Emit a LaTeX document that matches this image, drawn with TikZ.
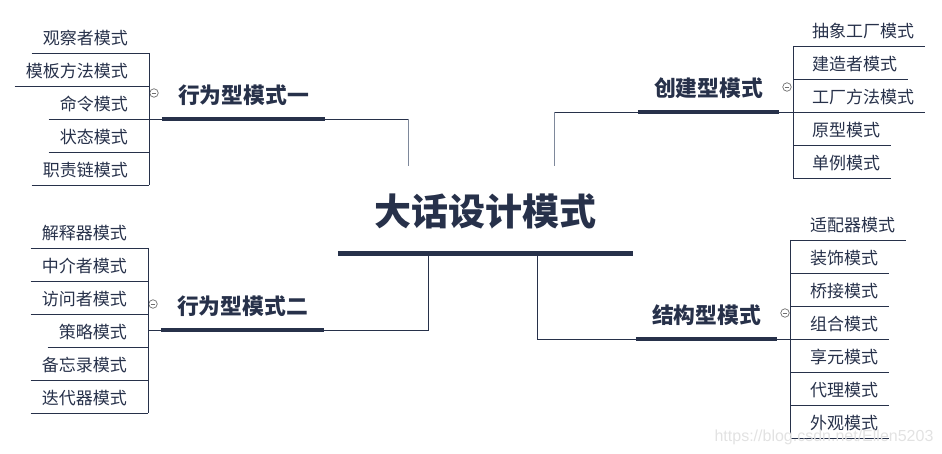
\documentclass[tikz,border=0pt]{standalone}
\usepackage{fontspec}
\usepackage{tikz}
\usetikzlibrary{calc, backgrounds}
\newfontfamily\mmcjk{Noto Sans CJK SC}
\newfontfamily\mmlatin{Liberation Sans}
\definecolor{mmnavy}{HTML}{27314A}
\definecolor{mmsoftline}{HTML}{7E889B}
\definecolor{mmfold}{HTML}{6E6E6E}
\definecolor{mmmark}{HTML}{E2E2E2}
\newcommand{\MMRootFont}{\mmcjk\bfseries\fontsize{37pt}{40pt}\selectfont}
\newcommand{\MMBranchFont}{\mmcjk\bfseries\fontsize{21.8pt}{24pt}\selectfont}
\newcommand{\MMLeafFont}{\mmcjk\fontsize{17pt}{20pt}\selectfont}
\tikzset{
  mm root/.style={
    font=\MMRootFont,
    text=mmnavy,
    anchor=south,
    inner xsep=36.5pt,
    inner ysep=0pt,
    text height=30pt,
    text depth=28pt
  },
  mm branch/.style={
    font=\MMBranchFont,
    text=mmnavy,
    anchor=south,
    inner xsep=16pt,
    inner ysep=0pt,
    text height=18pt,
    text depth=15.7pt
  },
  mm leaf/.style={
    font=\MMLeafFont,
    text=mmnavy,
    inner xsep=11pt,
    inner ysep=0pt,
    text height=14pt,
    text depth=8.5pt
  },
  mm leaf left/.style={mm leaf, anchor=south east},
  mm leaf right/.style={mm leaf, anchor=south west},
  mm thin/.style={
    draw=mmnavy,
    line width=0.9pt
  },
  mm link/.style={
    draw=mmnavy,
    line width=0.9pt
  },
  mm soft link/.style={
    draw=mmsoftline,
    line width=1pt
  },
  mm bar/.style={
    draw=mmnavy,
    line width=3.6pt
  },
  mm root bar/.style={
    draw=mmnavy,
    line width=5pt
  },
  mm fold/.style={
    circle,
    draw=mmfold,
    line width=0.7pt,
    minimum size=8.5pt,
    inner sep=0pt,
    path picture={
      \draw[mmfold, line width=0.7pt]
        ([xshift=-2.4pt]path picture bounding box.center) --
        ([xshift=2.4pt]path picture bounding box.center);
    }
  },
  mm mark/.style={
    font=\mmlatin\fontsize{16pt}{18pt}\selectfont,
    text=mmmark,
    inner sep=0pt
  }
}

\begin{document}
\begin{tikzpicture}[x=1pt,y=-1pt]
\useasboundingbox (0,0) rectangle (942,454);

\node[mm root] (root) at (485.5,254) {大话设计模式};

\node[mm branch] (bA) at (243.5,119) {行为型模式一};
\node[mm branch] (bB) at (242.5,330) {行为型模式二};
\node[mm branch] (bC) at (708.5,112) {创建型模式};
\node[mm branch] (bD) at (706.5,339) {结构型模式};

\coordinate (sA) at (149,119);
\coordinate (sB) at (148,330);
\coordinate (sC) at (793,112);
\coordinate (sD) at (790,339);
\coordinate (tA) at (408,166);
\coordinate (tC) at (554,166);

% behaviour patterns, part one
\node[mm leaf left] (obs) at (139,53) {观察者模式};
\node[mm leaf left] (tmpl) at (139,86) {模板方法模式};
\node[mm leaf left] (cmd) at (139,119) {命令模式};
\node[mm leaf left] (state) at (139,152) {状态模式};
\node[mm leaf left] (duty) at (139,185) {职责链模式};

% behaviour patterns, part two
\node[mm leaf left] (interp) at (138,248) {解释器模式};
\node[mm leaf left] (med) at (138,281) {中介者模式};
\node[mm leaf left] (visit) at (138,314) {访问者模式};
\node[mm leaf left] (strat) at (138,347) {策略模式};
\node[mm leaf left] (memo) at (138,380) {备忘录模式};
\node[mm leaf left] (iter) at (138,413) {迭代器模式};

% creational patterns
\node[mm leaf right] (absf) at (801,46) {抽象工厂模式};
\node[mm leaf right] (build) at (801,79) {建造者模式};
\node[mm leaf right] (fmeth) at (801,112) {工厂方法模式};
\node[mm leaf right] (proto) at (801,145) {原型模式};
\node[mm leaf right] (single) at (801,178) {单例模式};

% structural patterns
\node[mm leaf right] (adapt) at (799,240) {适配器模式};
\node[mm leaf right] (deco) at (799,273) {装饰模式};
\node[mm leaf right] (bridge) at (799,306) {桥接模式};
\node[mm leaf right] (comp) at (799,339) {组合模式};
\node[mm leaf right] (fly) at (799,372) {享元模式};
\node[mm leaf right] (proxy) at (799,405) {代理模式};
\node[mm leaf right] (facade) at (799,438) {外观模式};

\node[mm fold] (fA) at (154,93) {};
\node[mm fold] (fB) at (153,304) {};
\node[mm fold] (fC) at (787,87) {};
\node[mm fold] (fD) at (785,313) {};

% root to branches
\draw[mm link] ($(root.south)+(-57.5,0)$) |- (bB.south east);
\draw[mm link] ($(root.south)+(51.5,0)$) |- (bD.south west);
\draw[mm link] (bA.south east) -- (bA.south -| tA);
\draw[mm soft link] (bA.south -| tA) -- (tA);
\draw[mm link] (bC.south west) -- (bC.south -| tC);
\draw[mm soft link] (bC.south -| tC) -- (tC);

% branches to spines
\draw[mm thin] (sA) -- (bA.south west);
\draw[mm thin] (sB) -- (bB.south west);
\draw[mm thin] (bC.south east) -- (sC);
\draw[mm thin] (bD.south east) -- (sD);

\draw[mm thin] (obs.south -| sA) -- (duty.south -| sA);
\draw[mm thin] (interp.south -| sB) -- (iter.south -| sB);
\draw[mm thin] (absf.south -| sC) -- (single.south -| sC);
\draw[mm thin] (adapt.south -| sD) -- (facade.south -| sD);

% leaf underlines
\draw[mm thin] (obs.south west) -- (obs.south -| sA);
\draw[mm thin] (tmpl.south west) -- (tmpl.south -| sA);
\draw[mm thin] (cmd.south west) -- (cmd.south -| sA);
\draw[mm thin] (state.south west) -- (state.south -| sA);
\draw[mm thin] (duty.south west) -- (duty.south -| sA);

\draw[mm thin] (interp.south west) -- (interp.south -| sB);
\draw[mm thin] (med.south west) -- (med.south -| sB);
\draw[mm thin] (visit.south west) -- (visit.south -| sB);
\draw[mm thin] (strat.south west) -- (strat.south -| sB);
\draw[mm thin] (memo.south west) -- (memo.south -| sB);
\draw[mm thin] (iter.south west) -- (iter.south -| sB);

\draw[mm thin] (absf.south -| sC) -- (absf.south east);
\draw[mm thin] (build.south -| sC) -- (build.south east);
\draw[mm thin] (fmeth.south -| sC) -- (fmeth.south east);
\draw[mm thin] (proto.south -| sC) -- (proto.south east);
\draw[mm thin] (single.south -| sC) -- (single.south east);

\draw[mm thin] (adapt.south -| sD) -- (adapt.south east);
\draw[mm thin] (deco.south -| sD) -- (deco.south east);
\draw[mm thin] (bridge.south -| sD) -- (bridge.south east);
\draw[mm thin] (comp.south -| sD) -- (comp.south east);
\draw[mm thin] (fly.south -| sD) -- (fly.south east);
\draw[mm thin] (proxy.south -| sD) -- (proxy.south east);
\draw[mm thin] (facade.south -| sD) -- (facade.south east);

% thick underlines
\draw[mm root bar] (root.south west) -- (root.south east);
\draw[mm bar] (bA.south west) -- (bA.south east);
\draw[mm bar] (bB.south west) -- (bB.south east);
\draw[mm bar] (bC.south west) -- (bC.south east);
\draw[mm bar] (bD.south west) -- (bD.south east);

\node[mm mark] (wm) at (824,437) {https://blog.csdn.net/Ellen5203};
\end{tikzpicture}
\end{document}
